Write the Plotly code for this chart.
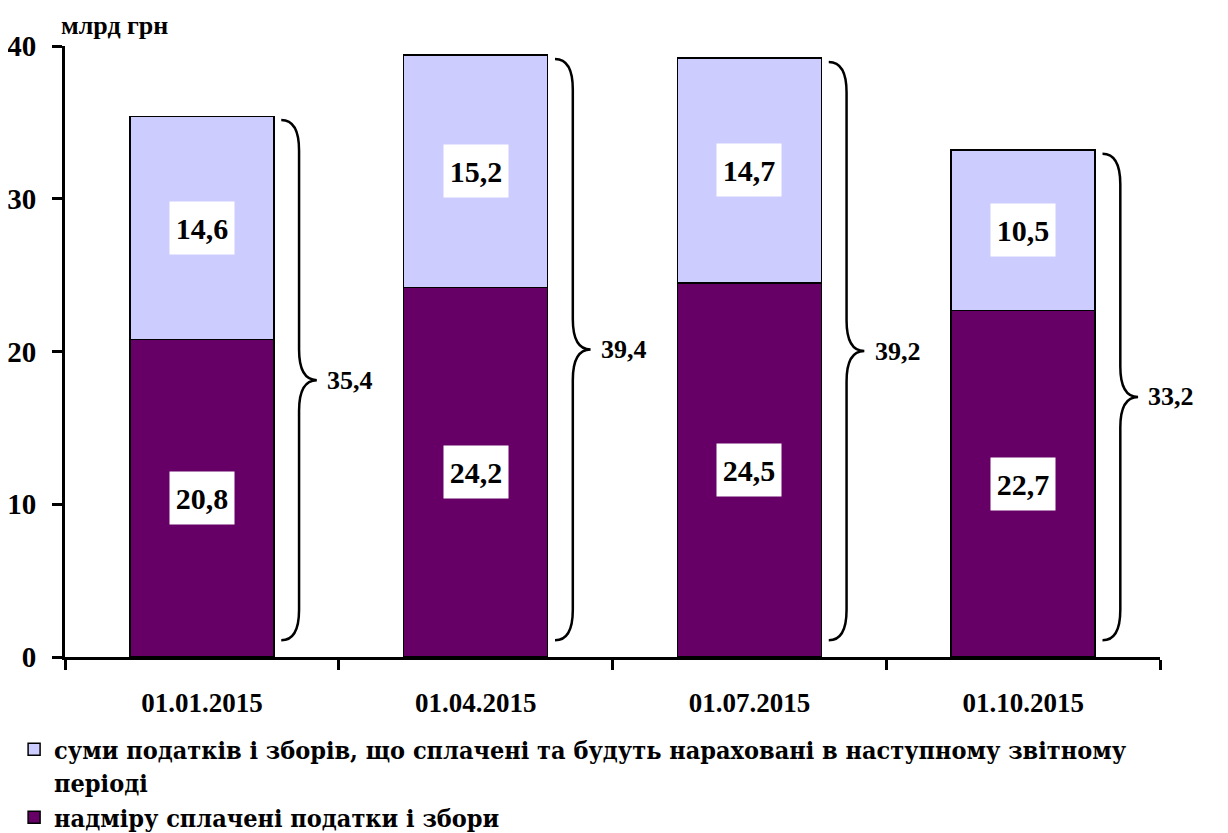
import plotly.graph_objects as go

categories = ["01.01.2015", "01.04.2015", "01.07.2015", "01.10.2015"]
overpaid = [20.8, 24.2, 24.5, 22.7]
next_period = [14.6, 15.2, 14.7, 10.5]
totals = [35.4, 39.4, 39.2, 33.2]
name_next = "суми податків і зборів, що сплачені та будуть нараховані в наступному звітному<br>періоді"
name_over = "надміру сплачені податки і збори"
y_ticks = [0, 10, 20, 30, 40]
unit_label = "млрд грн"

FONT = "Times New Roman, Liberation Serif, serif"
FONT_LEG = "DejaVu Serif Condensed"
DARK = "#660066"
LIGHT = "#CCCCFF"

def fmt(v):
    return f"{v:.1f}".replace(".", ",")

fig = go.Figure()
fig.add_trace(go.Bar(x=categories, y=overpaid, name=name_over, marker=dict(color=DARK, line=dict(color="black", width=1.5)), width=0.526))
fig.add_trace(go.Bar(x=categories, y=next_period, name=name_next, marker=dict(color=LIGHT, line=dict(color="black", width=1.5)), width=0.526))

annotations = []
for i, c in enumerate(categories):
    for yc, v in [(overpaid[i] / 2, overpaid[i]), (overpaid[i] + next_period[i] / 2, next_period[i])]:
        annotations.append(dict(x=c, y=yc, xref="x", yref="y", text=f"<b>{fmt(v)}</b>", showarrow=False,
                                bgcolor="white", width=62, height=50, borderpad=1,
                                font=dict(family=FONT, size=30, color="black")))

# braces on overlay numeric axis
shapes = []
o0, o1, o2 = 0.29, 0.355, 0.42
for i, t in enumerate(totals):
    top = t - 0.25
    bot = 1.1
    mid = (top + bot) / 2
    r = 2.0
    x0, x1, x2 = i + o0, i + o1, i + o2
    path = (f"M {x0},{top} Q {x1},{top} {x1},{top - r} L {x1},{mid + r} "
            f"Q {x1},{mid} {x2},{mid} Q {x1},{mid} {x1},{mid - r} "
            f"L {x1},{bot + r} Q {x1},{bot} {x0},{bot}")
    shapes.append(dict(type="path", path=path, xref="x2", yref="y", line=dict(color="black", width=2.5)))
    annotations.append(dict(x=i + 0.45, y=mid, xref="x2", yref="y", text=f"<b>{fmt(t)}</b>", showarrow=False,
                            xanchor="left", yanchor="middle", font=dict(family=FONT, size=26, color="black")))

annotations.append(dict(x=0, y=1, xref="paper", yref="paper", text=f"<b>{unit_label}</b>", showarrow=False,
                        xanchor="left", yanchor="bottom", xshift=-6, yshift=4,
                        font=dict(family=FONT, size=26, color="black")))

fig.update_layout(
    width=1220, height=825,
    margin=dict(l=57, r=68, t=38, b=176, autoexpand=False),
    paper_bgcolor="white", plot_bgcolor="white",
    barmode="stack",
    font=dict(family=FONT, color="black"),
    xaxis=dict(type="category", tickson="boundaries", ticks="outside", ticklen=10, tickwidth=3, tickcolor="black",
               showline=True, linecolor="black", linewidth=3, showgrid=False, tickangle=0,
               tickfont=dict(family=FONT, size=27, color="black", weight="bold"), ticklabelstandoff=20,
               range=[-0.5, 3.5]),
    xaxis2=dict(overlaying="x", range=[-0.5, 3.5], visible=False),
    yaxis=dict(range=[0, 40], tickvals=y_ticks, ticks="outside", ticklen=10, tickwidth=3, tickcolor="black",
               showline=True, linecolor="black", linewidth=3, showgrid=False, zeroline=False,
               tickfont=dict(family=FONT, size=29, color="black", weight="bold"), ticklabelstandoff=10),
    legend=dict(x=0.005, y=0.129, xref="container", yref="container", xanchor="left", yanchor="top",
                traceorder="reversed", font=dict(family=FONT_LEG, size=25, color="black", weight="bold"),
                itemwidth=30, tracegroupgap=0, valign="top", bgcolor="rgba(0,0,0,0)"),
    showlegend=True,
    shapes=shapes,
    annotations=annotations,
)

fig.write_html("out.html")
